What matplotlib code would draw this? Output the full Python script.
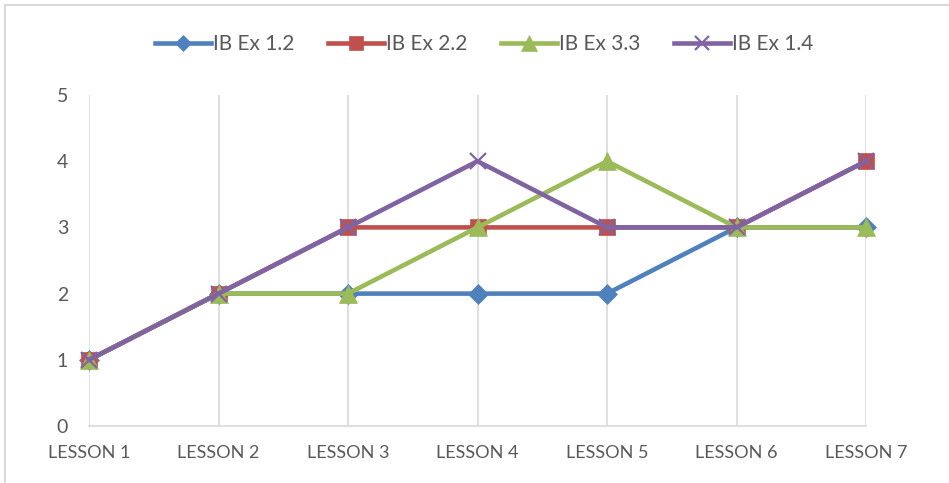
import matplotlib.pyplot as plt
from matplotlib.patches import Rectangle

lessons = ['LESSON 1', 'LESSON 2', 'LESSON 3', 'LESSON 4', 'LESSON 5', 'LESSON 6', 'LESSON 7']
ex_1_2 = [1, 2, 2, 2, 2, 3, 3]
ex_2_2 = [1, 2, 3, 3, 3, 3, 4]
ex_3_3 = [1, 2, 2, 3, 4, 3, 3]
ex_1_4 = [1, 2, 3, 4, 3, 3, 4]

series = [
    ('IB Ex 1.2', ex_1_2, '#4F81BD', 'D', 10),
    ('IB Ex 2.2', ex_2_2, '#C0504D', 's', 12),
    ('IB Ex 3.3', ex_3_3, '#9BBB59', '^', 13),
    ('IB Ex 1.4', ex_1_4, '#8064A2', 'x', 12),
]

plt.rcParams['font.family'] = ['Lato', 'DejaVu Sans']
text_color = '#595959'
grid_color = '#D9D9D9'

fig = plt.figure(figsize=(9.49, 4.83), dpi=100)
ax = fig.add_axes([89 / 949, 1 - 426 / 483, (866 - 89) / 949, (426 - 95) / 483])

x = range(len(lessons))
for name, vals, color, marker, ms in series:
    ax.plot(x, vals, color=color, lw=3.3, marker=marker, markersize=ms,
            markeredgewidth=1.6 if marker == 'x' else 0.5,
            markeredgecolor=color, label=name, clip_on=False, zorder=3)

ax.set_xlim(0, len(lessons) - 1)
ax.set_ylim(0, 5)
ax.set_yticks(range(6))
ax.set_xticks(list(x))
ax.set_xticklabels(lessons)
ax.tick_params(axis='both', length=0, colors=text_color)
ax.tick_params(axis='y', labelsize=14, pad=15)
ax.tick_params(axis='x', labelsize=13, pad=14)

ax.grid(axis='x', color=grid_color, lw=1.2)
ax.set_axisbelow(True)
for side in ['top', 'right', 'left']:
    ax.spines[side].set_visible(False)
ax.spines['bottom'].set_color(grid_color)
ax.spines['bottom'].set_linewidth(1.2)

leg = fig.legend(loc='center', bbox_to_anchor=(484 / 949, 1 - 44 / 483), ncol=4,
                 frameon=False, fontsize=15, handlelength=2.7, handletextpad=0.1,
                 columnspacing=1.6, markerscale=0.85)
for t in leg.get_texts():
    t.set_color(text_color)

# light chart border
fig.patches.append(Rectangle((5 / 949, -0.1), 1.2, 1.1 - 5 / 483, transform=fig.transFigure,
                             fill=False, edgecolor=grid_color, lw=1.5))

fig.savefig('out.png', dpi=100)
